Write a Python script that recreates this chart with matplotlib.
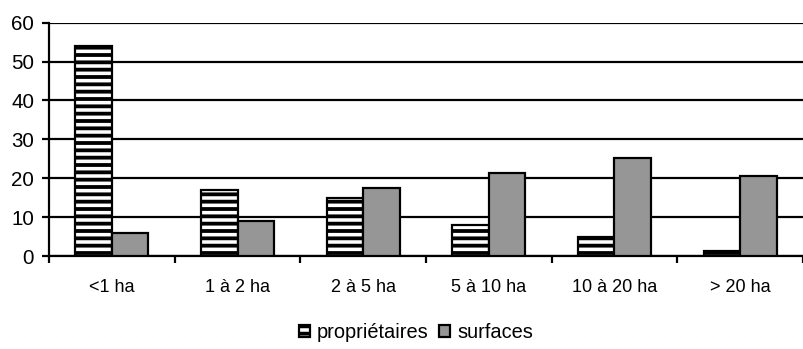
import matplotlib
matplotlib.use("Agg")
import matplotlib.pyplot as plt
import numpy as np

categories = ["<1 ha", "1 à 2 ha", "2 à 5 ha", "5 à 10 ha", "10 à 20 ha", "> 20 ha"]
proprietaires = [54, 17, 15, 8, 5, 1.3]
surfaces = [6, 9, 17.6, 21.3, 25.1, 20.7]
series_labels = ["propriétaires", "surfaces"]
yticks = [0, 10, 20, 30, 40, 50, 60]

DPI = 88
W, H = 803, 349


def pt(px):
    """convert pixel size to points at the chosen dpi"""
    return px * 72.0 / DPI


plt.rcParams['font.family'] = ['Liberation Sans', 'DejaVu Sans']
plt.rcParams['hatch.linewidth'] = pt(3.8)
plt.rcParams['hatch.color'] = 'black'

fig = plt.figure(figsize=(W / DPI, H / DPI), dpi=DPI)
ax = fig.add_axes([49 / W, 1 - 256 / H, 1 - 49 / W, (256 - 22.7) / H])

x = np.arange(len(categories))
w = 0.29
lw = pt(2.2)
ax.bar(x - w / 2, proprietaires, w, facecolor='white', edgecolor='black', linewidth=lw,
       hatch='--', label=series_labels[0], zorder=3)
ax.bar(x + w / 2, surfaces, w, facecolor='#969696', edgecolor='black', linewidth=lw,
       label=series_labels[1], zorder=3)

ax.set_xlim(-0.5, len(categories) - 0.5)
ax.set_ylim(0, 60)
ax.set_yticks(yticks)
ax.set_yticklabels([str(v) for v in yticks], fontsize=pt(20.5))
ax.yaxis.grid(True, color='black', linewidth=lw)
ax.set_axisbelow(True)

ax.set_xticks(x)
ax.set_xticklabels(categories, fontsize=pt(18))
ax.tick_params(axis='x', which='major', length=0, pad=pt(23))
ax.set_xticks(np.arange(len(categories) + 1) - 0.5, minor=True)
ax.tick_params(axis='x', which='minor', length=pt(7), width=lw, direction='out')
ax.tick_params(axis='y', length=pt(7), width=lw, direction='out', pad=pt(8))

for s in ['top', 'right']:
    ax.spines[s].set_visible(False)
for s in ['left', 'bottom']:
    ax.spines[s].set_linewidth(lw)

fig.legend(loc='center', bbox_to_anchor=(416 / W, 1 - 333 / H), ncol=2, frameon=False,
           fontsize=pt(20), handlelength=0.55, handleheight=0.55, handletextpad=0.35,
           columnspacing=0.5, borderpad=0)

fig.savefig("out.png", dpi=DPI)
